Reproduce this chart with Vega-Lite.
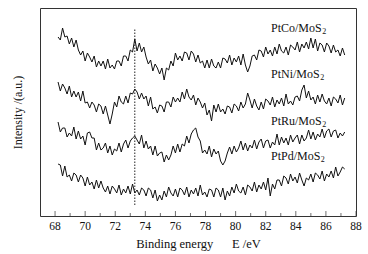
{
  "$schema": "https://vega.github.io/schema/vega-lite/v6.json",
  "width": 316,
  "height": 208,
  "autosize": {"type": "none"},
  "padding": {"left": 40, "top": 8, "right": 12, "bottom": 38},
  "config": {"view": {"stroke": "#333", "strokeWidth": 1}, "font": "Liberation Serif", "axis": {"labelOverlap": false}},
  "datasets": {
    "spec": [
      {"e":68.2,"co":179,"ni":134,"ru":94,"pd":52},
      {"e":68.35,"co":176,"ni":125,"ru":84,"pd":51},
      {"e":68.5,"co":188,"ni":132,"ru":88,"pd":40},
      {"e":68.65,"co":179,"ni":128,"ru":88,"pd":50},
      {"e":68.8,"co":180,"ni":122,"ru":79,"pd":39},
      {"e":68.95,"co":172,"ni":130,"ru":83,"pd":41},
      {"e":69.1,"co":178,"ni":119,"ru":80,"pd":35},
      {"e":69.25,"co":169,"ni":125,"ru":89,"pd":43},
      {"e":69.4,"co":176,"ni":119,"ru":77,"pd":41},
      {"e":69.55,"co":166,"ni":124,"ru":85,"pd":34},
      {"e":69.7,"co":161,"ni":115,"ru":77,"pd":41},
      {"e":69.85,"co":165,"ni":125,"ru":80,"pd":38},
      {"e":70.0,"co":155,"ni":113,"ru":71,"pd":30},
      {"e":70.15,"co":163,"ni":114,"ru":83,"pd":39},
      {"e":70.3,"co":159,"ni":108,"ru":84,"pd":31},
      {"e":70.45,"co":154,"ni":114,"ru":78,"pd":34},
      {"e":70.6,"co":160,"ni":111,"ru":78,"pd":27},
      {"e":70.75,"co":149,"ni":104,"ru":66,"pd":36},
      {"e":70.9,"co":155,"ni":112,"ru":73,"pd":28},
      {"e":71.05,"co":150,"ni":110,"ru":66,"pd":35},
      {"e":71.2,"co":155,"ni":102,"ru":68,"pd":28},
      {"e":71.35,"co":147,"ni":110,"ru":73,"pd":24},
      {"e":71.5,"co":157,"ni":101,"ru":63,"pd":30},
      {"e":71.65,"co":148,"ni":92,"ru":70,"pd":22},
      {"e":71.8,"co":151,"ni":102,"ru":61,"pd":30},
      {"e":71.95,"co":147,"ni":114,"ru":67,"pd":27},
      {"e":72.1,"co":155,"ni":109,"ru":65,"pd":23},
      {"e":72.25,"co":155,"ni":120,"ru":73,"pd":31},
      {"e":72.4,"co":150,"ni":114,"ru":64,"pd":21},
      {"e":72.55,"co":160,"ni":112,"ru":72,"pd":27},
      {"e":72.7,"co":160,"ni":120,"ru":76,"pd":23},
      {"e":72.85,"co":155,"ni":113,"ru":68,"pd":30},
      {"e":73.0,"co":166,"ni":123,"ru":75,"pd":22},
      {"e":73.15,"co":164,"ni":122,"ru":78,"pd":32},
      {"e":73.3,"co":177,"ni":127,"ru":80,"pd":23},
      {"e":73.45,"co":165,"ni":124,"ru":76,"pd":26},
      {"e":73.6,"co":173,"ni":117,"ru":72,"pd":21},
      {"e":73.75,"co":164,"ni":123,"ru":81,"pd":28},
      {"e":73.9,"co":169,"ni":117,"ru":68,"pd":26},
      {"e":74.05,"co":159,"ni":120,"ru":75,"pd":20},
      {"e":74.2,"co":152,"ni":110,"ru":67,"pd":28},
      {"e":74.35,"co":156,"ni":119,"ru":70,"pd":26},
      {"e":74.5,"co":145,"ni":107,"ru":61,"pd":18},
      {"e":74.65,"co":152,"ni":109,"ru":70,"pd":26},
      {"e":74.8,"co":148,"ni":103,"ru":60,"pd":15},
      {"e":74.95,"co":142,"ni":111,"ru":63,"pd":21},
      {"e":75.1,"co":148,"ni":110,"ru":64,"pd":16},
      {"e":75.25,"co":136,"ni":104,"ru":54,"pd":25},
      {"e":75.4,"co":148,"ni":114,"ru":61,"pd":19},
      {"e":75.55,"co":146,"ni":114,"ru":56,"pd":29},
      {"e":75.7,"co":155,"ni":109,"ru":61,"pd":23},
      {"e":75.85,"co":150,"ni":119,"ru":70,"pd":20},
      {"e":76.0,"co":163,"ni":114,"ru":63,"pd":27},
      {"e":76.15,"co":156,"ni":118,"ru":72,"pd":19},
      {"e":76.3,"co":160,"ni":114,"ru":64,"pd":28},
      {"e":76.45,"co":155,"ni":124,"ru":72,"pd":26},
      {"e":76.6,"co":164,"ni":117,"ru":70,"pd":21},
      {"e":76.75,"co":163,"ni":127,"ru":80,"pd":29},
      {"e":76.9,"co":156,"ni":119,"ru":73,"pd":19},
      {"e":77.05,"co":165,"ni":116,"ru":82,"pd":26},
      {"e":77.2,"co":162,"ni":121,"ru":86,"pd":22},
      {"e":77.35,"co":154,"ni":111,"ru":88,"pd":28},
      {"e":77.5,"co":161,"ni":118,"ru":79,"pd":20},
      {"e":77.65,"co":153,"ni":114,"ru":75,"pd":31},
      {"e":77.8,"co":155,"ni":108,"ru":63,"pd":21},
      {"e":77.95,"co":148,"ni":113,"ru":66,"pd":24},
      {"e":78.1,"co":156,"ni":101,"ru":62,"pd":19},
      {"e":78.25,"co":148,"ni":106,"ru":70,"pd":27},
      {"e":78.4,"co":157,"ni":95,"ru":59,"pd":26},
      {"e":78.55,"co":150,"ni":111,"ru":67,"pd":19},
      {"e":78.7,"co":148,"ni":104,"ru":62,"pd":28},
      {"e":78.85,"co":154,"ni":112,"ru":65,"pd":26},
      {"e":79.0,"co":148,"ni":104,"ru":55,"pd":19},
      {"e":79.15,"co":158,"ni":107,"ru":51,"pd":28},
      {"e":79.3,"co":157,"ni":102,"ru":55,"pd":16},
      {"e":79.45,"co":153,"ni":110,"ru":63,"pd":25},
      {"e":79.6,"co":161,"ni":109,"ru":69,"pd":20},
      {"e":79.75,"co":151,"ni":103,"ru":62,"pd":29},
      {"e":79.9,"co":158,"ni":112,"ru":70,"pd":23},
      {"e":80.05,"co":154,"ni":110,"ru":64,"pd":32},
      {"e":80.2,"co":160,"ni":105,"ru":68,"pd":25},
      {"e":80.35,"co":151,"ni":114,"ru":75,"pd":23},
      {"e":80.5,"co":162,"ni":108,"ru":66,"pd":29},
      {"e":80.65,"co":151,"ni":112,"ru":73,"pd":21},
      {"e":80.8,"co":144,"ni":123,"ru":65,"pd":31},
      {"e":80.95,"co":150,"ni":116,"ru":71,"pd":29},
      {"e":81.1,"co":160,"ni":108,"ru":68,"pd":25},
      {"e":81.25,"co":161,"ni":117,"ru":76,"pd":34},
      {"e":81.4,"co":156,"ni":110,"ru":67,"pd":24},
      {"e":81.55,"co":166,"ni":106,"ru":74,"pd":31},
      {"e":81.7,"co":165,"ni":114,"ru":77,"pd":27},
      {"e":81.85,"co":159,"ni":107,"ru":68,"pd":34},
      {"e":82.0,"co":169,"ni":117,"ru":75,"pd":26},
      {"e":82.15,"co":162,"ni":115,"ru":76,"pd":38},
      {"e":82.3,"co":166,"ni":111,"ru":68,"pd":20},
      {"e":82.45,"co":160,"ni":119,"ru":74,"pd":32},
      {"e":82.6,"co":169,"ni":109,"ru":71,"pd":27},
      {"e":82.75,"co":162,"ni":116,"ru":82,"pd":36},
      {"e":82.9,"co":172,"ni":112,"ru":71,"pd":36},
      {"e":83.05,"co":165,"ni":118,"ru":79,"pd":30},
      {"e":83.2,"co":163,"ni":110,"ru":73,"pd":40},
      {"e":83.35,"co":169,"ni":122,"ru":78,"pd":38},
      {"e":83.5,"co":161,"ni":112,"ru":71,"pd":32},
      {"e":83.65,"co":171,"ni":115,"ru":81,"pd":42},
      {"e":83.8,"co":169,"ni":111,"ru":74,"pd":35},
      {"e":83.95,"co":166,"ni":119,"ru":78,"pd":39},
      {"e":84.1,"co":174,"ni":120,"ru":81,"pd":33},
      {"e":84.25,"co":164,"ni":115,"ru":72,"pd":43},
      {"e":84.4,"co":172,"ni":126,"ru":81,"pd":36},
      {"e":84.55,"co":168,"ni":131,"ru":75,"pd":30},
      {"e":84.7,"co":174,"ni":118,"ru":78,"pd":38},
      {"e":84.85,"co":167,"ni":125,"ru":86,"pd":36},
      {"e":85.0,"co":178,"ni":116,"ru":77,"pd":42},
      {"e":85.15,"co":168,"ni":119,"ru":84,"pd":34},
      {"e":85.3,"co":177,"ni":112,"ru":76,"pd":43},
      {"e":85.45,"co":165,"ni":121,"ru":82,"pd":41},
      {"e":85.6,"co":173,"ni":114,"ru":79,"pd":37},
      {"e":85.75,"co":171,"ni":122,"ru":87,"pd":45},
      {"e":85.9,"co":164,"ni":115,"ru":78,"pd":35},
      {"e":86.05,"co":173,"ni":112,"ru":85,"pd":42},
      {"e":86.2,"co":170,"ni":118,"ru":87,"pd":39},
      {"e":86.35,"co":163,"ni":110,"ru":79,"pd":45},
      {"e":86.5,"co":171,"ni":119,"ru":85,"pd":38},
      {"e":86.65,"co":164,"ni":117,"ru":86,"pd":49},
      {"e":86.8,"co":166,"ni":113,"ru":78,"pd":40},
      {"e":86.95,"co":160,"ni":121,"ru":83,"pd":44},
      {"e":87.1,"co":168,"ni":111,"ru":80,"pd":49},
      {"e":87.25,"co":161,"ni":118,"ru":84,"pd":47}
    ],
    "labels": [
      {"e":82.35,"h":188,"t":"PtCo/MoS"},
      {"e":82.35,"h":142,"t":"PtNi/MoS"},
      {"e":82.35,"h":95,"t":"PtRu/MoS"},
      {"e":82.35,"h":60,"t":"PtPd/MoS"}
    ],
    "subs": [
      {"e":85.75,"h":188,"t":"2"},
      {"e":85.62,"h":142,"t":"2"},
      {"e":85.75,"h":95,"t":"2"},
      {"e":85.66,"h":60,"t":"2"}
    ],
    "major": [
      {"m":68},{"m":70},{"m":72},{"m":74},{"m":76},{"m":78},{"m":80},{"m":82},{"m":84},{"m":86},{"m":88}
    ],
    "minor": [
      {"m":69},{"m":71},{"m":73},{"m":75},{"m":77},{"m":79},{"m":81},{"m":83},{"m":85},{"m":87}
    ]
  },
  "layer": [
    {
      "data": {"name": "spec"},
      "transform": [{"fold": ["co", "ni", "ru", "pd"], "as": ["s", "v"]}],
      "mark": {"type": "line", "color": "#111", "strokeWidth": 1},
      "encoding": {
        "x": {
          "field": "e", "type": "quantitative",
          "scale": {"domain": [67, 88], "nice": false, "zero": false},
          "axis": {
            "labels": false, "ticks": false, "domain": false, "grid": false,
            "title": "Binding energy\u00a0\u00a0\u00a0\u00a0\u00a0\u00a0E /eV",
            "titleFont": "Liberation Serif", "titleFontSize": 12.5, "titleFontWeight": "normal",
            "titleColor": "#111", "titlePadding": 21
          }
        },
        "y": {
          "field": "v", "type": "quantitative",
          "scale": {"domain": [0, 208], "nice": false, "zero": false},
          "axis": {
            "ticks": false, "labels": false, "domain": false, "grid": false,
            "title": "Intensity /(a.u.)",
            "titleFont": "Liberation Serif", "titleFontSize": 12, "titleFontWeight": "normal",
            "titleColor": "#111", "titlePadding": 16
          }
        },
        "detail": {"field": "s"}
      }
    },
    {
      "data": {"name": "major"},
      "mark": {"type": "tick", "orient": "vertical", "size": 5, "thickness": 1, "yOffset": -2.5, "color": "#333"},
      "encoding": {
        "x": {"field": "m", "type": "quantitative"},
        "y": {"datum": 0}
      }
    },
    {
      "data": {"name": "major"},
      "mark": {"type": "text", "baseline": "middle", "align": "center", "dy": 11, "fontSize": 11.5, "font": "Liberation Serif", "color": "#111"},
      "encoding": {
        "x": {"field": "m", "type": "quantitative"},
        "y": {"datum": 0},
        "text": {"field": "m", "type": "quantitative"}
      }
    },
    {
      "data": {"name": "minor"},
      "mark": {"type": "tick", "orient": "vertical", "size": 3, "thickness": 1, "yOffset": -1.5, "color": "#333"},
      "encoding": {
        "x": {"field": "m", "type": "quantitative"},
        "y": {"datum": 0}
      }
    },
    {
      "data": {"values": [{"e": 73.3, "lo": 11, "hi": 188}]},
      "mark": {"type": "rule", "color": "#222", "strokeWidth": 1, "strokeDash": [1.5, 1.5]},
      "encoding": {
        "x": {"field": "e", "type": "quantitative"},
        "y": {"field": "lo", "type": "quantitative"},
        "y2": {"field": "hi"}
      }
    },
    {
      "data": {"name": "labels"},
      "mark": {"type": "text", "align": "left", "baseline": "middle", "fontSize": 12, "font": "Liberation Serif", "color": "#111"},
      "encoding": {
        "x": {"field": "e", "type": "quantitative"},
        "y": {"field": "h", "type": "quantitative"},
        "text": {"field": "t"}
      }
    },
    {
      "data": {"name": "subs"},
      "mark": {"type": "text", "align": "left", "baseline": "middle", "fontSize": 8, "dy": 4, "font": "Liberation Serif", "color": "#111"},
      "encoding": {
        "x": {"field": "e", "type": "quantitative"},
        "y": {"field": "h", "type": "quantitative"},
        "text": {"field": "t"}
      }
    }
  ]
}
